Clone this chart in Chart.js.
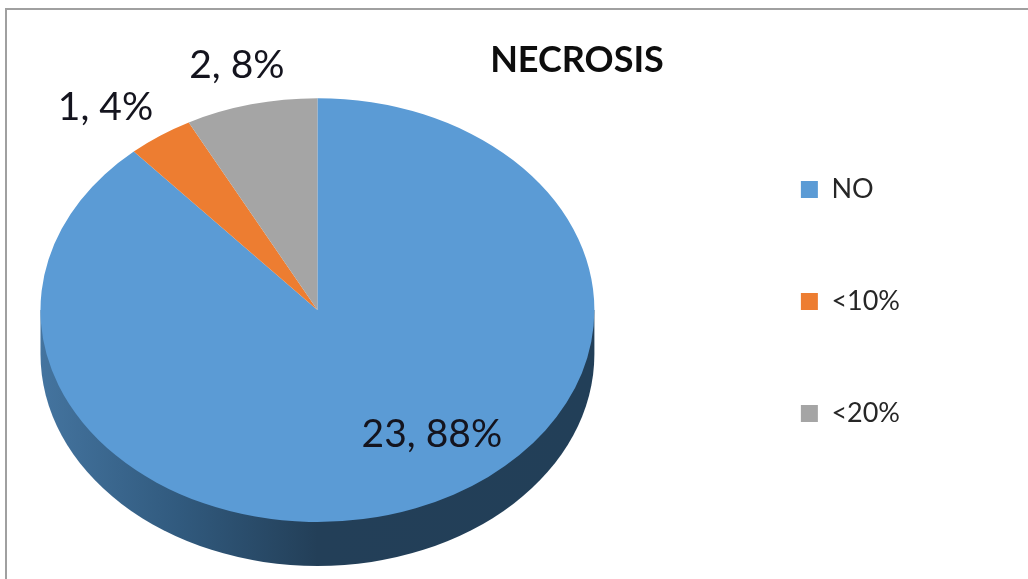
<!DOCTYPE html>
<html>
<head>
<meta charset="utf-8">
<title>NECROSIS</title>
<script src="https://cdn.jsdelivr.net/npm/chart.js@4"></script>
<style>
html, body { margin: 0; padding: 0; background: #fff; overflow: hidden; }
#frame { position: absolute; left: 5px; top: 8px; width: 1023px; height: 571px; box-sizing: border-box;
         border-left: 2px solid #a0a0a0; border-top: 2px solid #a0a0a0; }
#pie { position: absolute; left: 0; top: 0; }
</style>
</head>
<body>
<div id="frame"></div>
<canvas id="pie" width="1028" height="579"></canvas>
<script>
// Values
var categories = ['NO', '<10%', '<20%'];
var counts = [23, 1, 2];
var percents = [88, 4, 8];
var sliceColors = ['#5b9bd5', '#ed7d31', '#a5a5a5'];

// Squash factor and wall height of the fake 3D look
var squash = 1.307;
var wallDepth = 44;

// Where each data label sits, as a shift from pie centre in pie radii
var labelShift = [[0.54, 0.585], [-1.0, -0.955], [-0.38, -1.155]];

// Squash the circle into an ellipse and paint the wall below it
var tiltedPie = {
    id: 'tiltedPie',
    beforeDatasetsDraw: function (chart) {
        var arc = chart.getDatasetMeta(0).data[0];
        var ctx = chart.ctx;
        var rx = arc.outerRadius * squash;
        var ry = arc.outerRadius;

        var wall = ctx.createLinearGradient(arc.x - rx, 0, arc.x + rx, 0);
        wall.addColorStop(0, '#44749f');
        wall.addColorStop(0.25, '#315a7e');
        wall.addColorStop(0.5, '#233f58');
        wall.addColorStop(1, '#223f58');

        ctx.save();
        ctx.beginPath();
        ctx.ellipse(arc.x, arc.y + wallDepth, rx, ry, 0, 0, Math.PI);
        ctx.lineTo(arc.x - rx, arc.y);
        ctx.lineTo(arc.x + rx, arc.y);
        ctx.closePath();
        ctx.fillStyle = wall;
        ctx.fill();
        ctx.restore();

        ctx.save();
        ctx.translate(arc.x, arc.y);
        ctx.scale(squash, 1);
        ctx.translate(-arc.x, -arc.y);
    },
    afterDatasetsDraw: function (chart) {
        var ctx = chart.ctx;
        ctx.restore();

        var arc = chart.getDatasetMeta(0).data[0];
        ctx.save();
        ctx.font = '39px Lato';
        ctx.fillStyle = '#14141e';
        ctx.textAlign = 'center';
        ctx.textBaseline = 'middle';
        for (var i = 0; i < counts.length; i++) {
            var tx = arc.x + labelShift[i][0] * arc.outerRadius;
            var ty = arc.y + labelShift[i][1] * arc.outerRadius;
            ctx.fillText(counts[i] + ', ' + percents[i] + '%', tx, ty);
        }
        ctx.restore();
    }
};

// The title sits over the right half, not over the pie; the legend goes further right too
var placeBlocks = {
    id: 'placeBlocks',
    afterLayout: function (chart) {
        var t = chart.titleBlock;
        var mid = (t.left + t.right) / 2;
        t.left += 577 - mid;
        t.right += 577 - mid;

        var l = chart.legend;
        l.left += 81;
        l.right += 81;
        l.top += 21;
        l.bottom += 21;
    }
};

var chart = new Chart(document.getElementById('pie').getContext('2d'), {
    type: 'pie',
    data: {
        labels: categories,
        datasets: [{
            data: counts,
            backgroundColor: sliceColors,
            borderWidth: 0
        }]
    },
    options: {
        responsive: false,
        animation: false,
        layout: { padding: { left: 0, right: 199, top: 39, bottom: 57 } },
        plugins: {
            title: {
                display: true,
                text: 'NECROSIS',
                color: '#0d0d0d',
                font: { family: 'Lato', size: 36, weight: 'bold' },
                padding: { top: 0, bottom: 16 }
            },
            legend: {
                position: 'right',
                labels: {
                    boxWidth: 17,
                    boxHeight: 17,
                    padding: 85,
                    color: '#262626',
                    font: { family: 'Lato', size: 27 }
                }
            },
            tooltip: { enabled: false }
        }
    },
    plugins: [tiltedPie, placeBlocks]
});
</script>
</body>
</html>
